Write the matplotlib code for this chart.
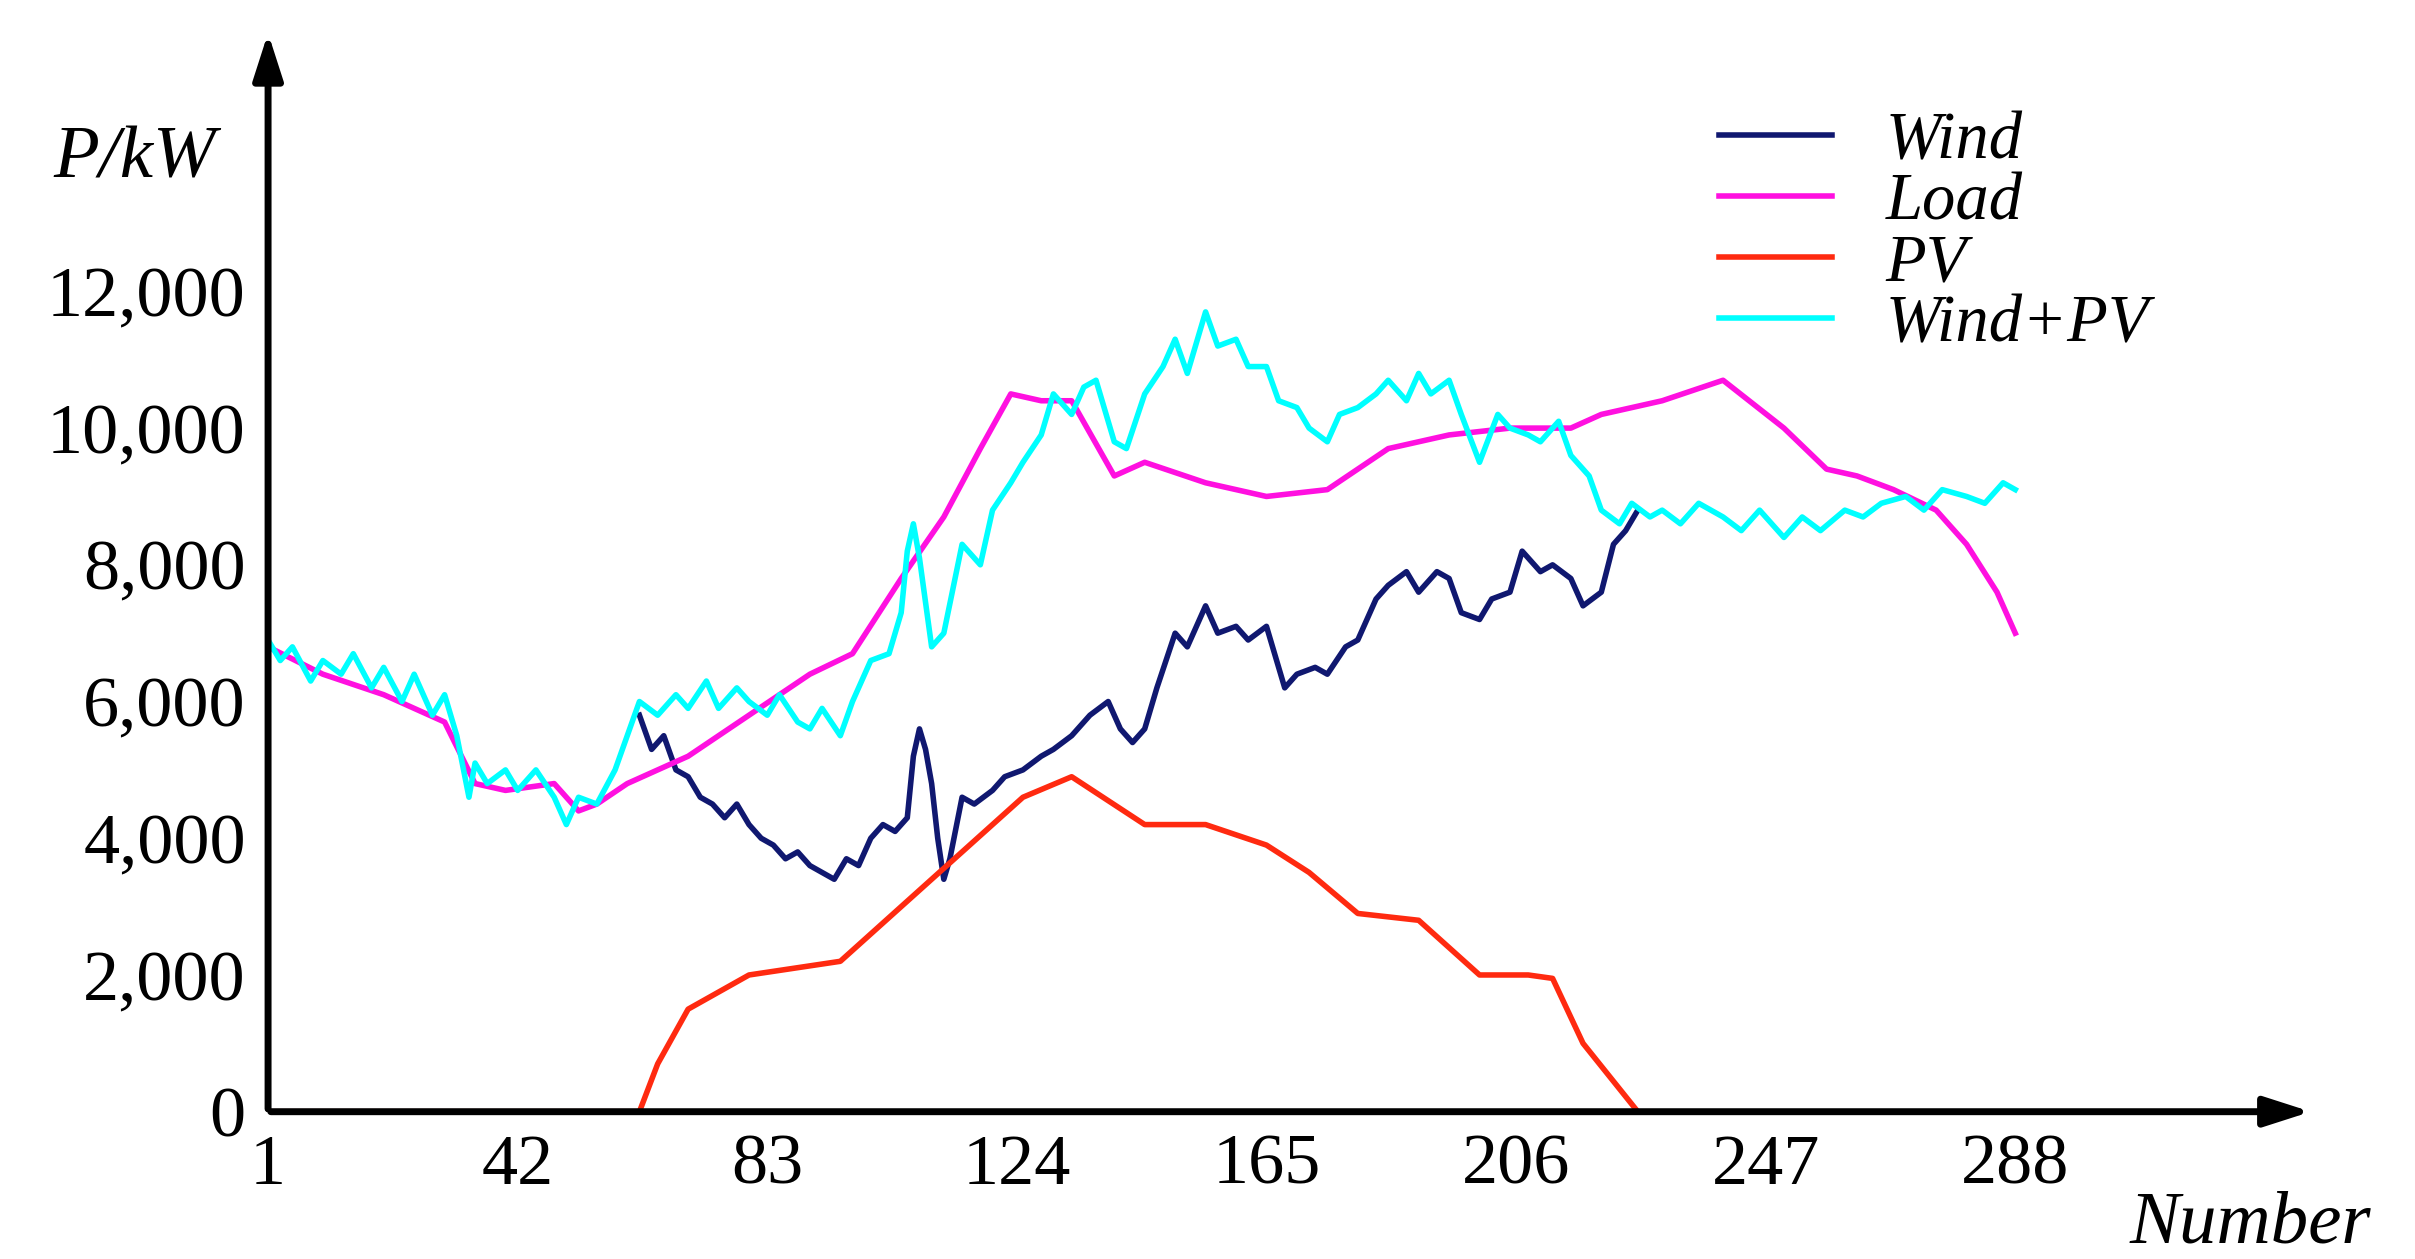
import matplotlib.pyplot as plt
import numpy as np

# data
wind_x = [62, 64, 66, 68, 70, 72, 74, 76, 78, 80, 82, 84, 86, 88, 90, 92, 94, 96, 98, 100, 102, 104,
          106, 107, 108, 109, 110, 111, 112, 113, 115, 117, 120, 122, 125, 128, 130, 133, 136, 139,
          141, 143, 145, 147, 150, 152, 155, 157, 160, 162, 165, 167, 168, 170, 173, 175, 178, 180,
          183, 185, 188, 190, 193, 195, 197, 200, 202, 205, 207, 208, 210, 212, 215, 217, 220, 222, 224, 226]
wind_y = [5800, 5300, 5500, 5000, 4900, 4600, 4500, 4300, 4500, 4200, 4000, 3900, 3700, 3800, 3600,
          3500, 3400, 3700, 3600, 4000, 4200, 4100, 4300, 5200, 5600, 5300, 4800, 4000, 3400, 3700,
          4600, 4500, 4700, 4900, 5000, 5200, 5300, 5500, 5800, 6000, 5600, 5400, 5600, 6200, 7000,
          6800, 7400, 7000, 7100, 6900, 7100, 6500, 6200, 6400, 6500, 6400, 6800, 6900, 7500, 7700,
          7900, 7600, 7900, 7800, 7300, 7200, 7500, 7600, 8200, 8100, 7900, 8000, 7800, 7400, 7600,
          8300, 8500, 8800]

load_x = [1, 10, 20, 30, 35, 40, 48, 52, 55, 60, 70, 80, 90, 97, 105, 112, 118, 123, 128, 133, 140,
          145, 155, 165, 175, 185, 195, 205, 215, 220, 230, 240, 250, 257, 262, 268, 275, 280, 285, 288]
load_y = [6800, 6400, 6100, 5700, 4800, 4700, 4800, 4400, 4500, 4800, 5200, 5800, 6400, 6700, 7800,
          8700, 9700, 10500, 10400, 10400, 9300, 9500, 9200, 9000, 9100, 9700, 9900, 10000, 10000,
          10200, 10400, 10700, 10000, 9400, 9300, 9100, 8800, 8300, 7600, 7000]

pv_x = [1, 62, 65, 70, 80, 95, 105, 115, 125, 133, 145, 155, 165, 172, 180, 190, 200, 208, 212, 217, 226]
pv_y = [0, 0, 700, 1500, 2000, 2200, 3000, 3800, 4600, 4900, 4200, 4200, 3900, 3500, 2900, 2800,
        2000, 2000, 1950, 1000, 0]

sum_x = [1, 3, 5, 8, 10, 13, 15, 18, 20, 23, 25, 28, 30, 32, 34, 35, 37, 40, 42, 45, 48, 50, 52, 55,
         58, 60, 62, 65, 68, 70, 73, 75, 78, 80, 83, 85, 88, 90, 92, 95, 97, 100, 103, 105, 106, 107,
         108, 110, 112, 115, 118, 120, 123, 125, 128, 130, 133, 135, 137, 140, 142, 145, 148, 150, 152,
         155, 157, 160, 162, 165, 167, 170, 172, 175, 177, 180, 183, 185, 188, 190, 192, 195, 197, 200,
         203, 205, 208, 210, 213, 215, 218, 220, 223, 225, 228, 230, 233, 236, 240, 243, 246, 250, 253,
         256, 260, 263, 266, 270, 273, 276, 280, 283, 286, 288]
sum_y = [6900, 6600, 6800, 6300, 6600, 6400, 6700, 6200, 6500, 6000, 6400, 5800, 6100, 5500, 4600,
         5100, 4800, 5000, 4700, 5000, 4600, 4200, 4600, 4500, 5000, 5500, 6000, 5800, 6100, 5900,
         6300, 5900, 6200, 6000, 5800, 6100, 5700, 5600, 5900, 5500, 6000, 6600, 6700, 7300, 8200,
         8600, 8100, 6800, 7000, 8300, 8000, 8800, 9200, 9500, 9900, 10500, 10200, 10600, 10700,
         9800, 9700, 10500, 10900, 11300, 10800, 11700, 11200, 11300, 10900, 10900, 10400, 10300,
         10000, 9800, 10200, 10300, 10500, 10700, 10400, 10800, 10500, 10700, 10200, 9500, 10200,
         10000, 9900, 9800, 10100, 9600, 9300, 8800, 8600, 8900, 8700, 8800, 8600, 8900, 8700, 8500,
         8800, 8400, 8700, 8500, 8800, 8700, 8900, 9000, 8800, 9100, 9000, 8900, 9200, 9100]

xticks = [1, 42, 83, 124, 165, 206, 247, 288]
yticks = [0, 2000, 4000, 6000, 8000, 10000, 12000]

plt.rcParams['font.family'] = ['Liberation Serif', 'DejaVu Serif']

fig = plt.figure(figsize=(24.15, 12.59), dpi=100)
ax = fig.add_axes([0.111, 0.117, 0.847, 0.834])

ax.plot(wind_x, wind_y, color='#101870', lw=4, label='Wind')
ax.plot(load_x, load_y, color='#ff10e0', lw=4, label='Load')
ax.plot(pv_x, pv_y, color='#ff2a10', lw=4, label='PV')
ax.plot(sum_x, sum_y, color='#00ffff', lw=4, label='Wind+PV')

ax.set_xlim(1, 337)
ax.set_ylim(0, 15360)
for s in ax.spines.values():
    s.set_visible(False)
ax.set_xticks(xticks)
ax.set_xticklabels([str(t) for t in xticks])
ax.set_yticks(yticks)
ax.set_yticklabels(['{:,}'.format(t) for t in yticks])
ax.tick_params(length=0, labelsize=52, pad=16)

# axis arrows
ax.annotate('', xy=(1.0, 0), xytext=(0, 0), xycoords='axes fraction',
            arrowprops=dict(arrowstyle='-|>,head_length=2.8,head_width=0.9', color='black', lw=5))
ax.annotate('', xy=(0, 1.03), xytext=(0, 0), xycoords='axes fraction',
            arrowprops=dict(arrowstyle='-|>,head_length=2.8,head_width=0.9', color='black', lw=5))

ax.text(-0.105, 0.89, 'P/kW', transform=ax.transAxes, fontsize=54, style='italic')
ax.text(0.91, -0.125, 'Number', transform=ax.transAxes, fontsize=54, style='italic')

leg = ax.legend(loc='upper left', bbox_to_anchor=(0.68, 1.01), frameon=False,
                handlelength=1.7, labelspacing=0.0, prop={'style': 'italic', 'size': 48})

fig.savefig('out.png')
